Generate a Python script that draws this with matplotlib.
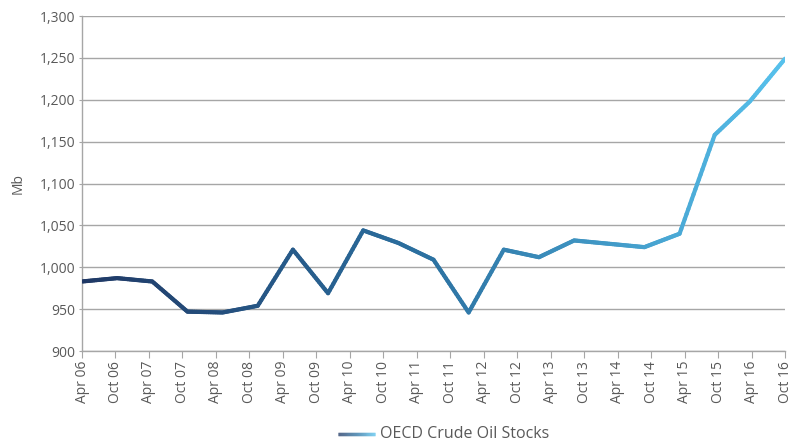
import numpy as np
import matplotlib
matplotlib.use("Agg")
import matplotlib.pyplot as plt
from matplotlib.collections import LineCollection
from matplotlib.colors import LinearSegmentedColormap

plt.rcParams['font.family'] = ['Open Sans', 'DejaVu Sans']

tick_labels = ["Apr 06", "Oct 06", "Apr 07", "Oct 07", "Apr 08", "Oct 08", "Apr 09",
               "Oct 09", "Apr 10", "Oct 10", "Apr 11", "Oct 11", "Apr 12", "Oct 12",
               "Apr 13", "Oct 13", "Apr 14", "Oct 14", "Apr 15", "Oct 15", "Apr 16",
               "Oct 16"]
stocks = [983, 987, 983, 947, 946, 954, 1021, 969, 1044, 1029, 1009, 946,
          1021, 1012, 1032, 1028, 1024, 1040, 1158, 1198, 1249]
series_name = "OECD Crude Oil Stocks"

cmap = LinearSegmentedColormap.from_list("oil", ["#1f3865", "#2c72a2", "#57c1ec"])

fig = plt.figure(figsize=(8.05, 4.44), dpi=100)
ax = fig.add_axes([82/805, 1-351/444, (785-82)/805, (351-16)/444])

n = len(stocks)
x = np.arange(n, dtype=float)
y = np.array(stocks, dtype=float)
sub = 20
xs, ys = [], []
for i in range(n - 1):
    t = np.linspace(0, 1, sub, endpoint=False)
    xs.extend(x[i] + t * (x[i+1] - x[i]))
    ys.extend(y[i] + t * (y[i+1] - y[i]))
xs.append(x[-1]); ys.append(y[-1])
xs = np.array(xs); ys = np.array(ys)
pts = np.column_stack([xs, ys]).reshape(-1, 1, 2)
segs = np.concatenate([pts[:-1], pts[1:]], axis=1)
lc = LineCollection(segs, cmap=cmap, linewidth=3.0, capstyle='round', joinstyle='round', zorder=3)
lc.set_array((xs[:-1] + xs[1:]) / 2 / (n - 1))
lc.set_clim(0, 1)
ax.add_collection(lc)

ax.set_xlim(0, n - 1)
ax.set_ylim(900, 1300)
ax.set_yticks(np.arange(900, 1301, 50))
ax.set_yticklabels([f"{v:,}" for v in range(900, 1301, 50)])
ax.set_xticks(np.linspace(0, n - 1, len(tick_labels)))
ax.set_xticklabels(tick_labels, rotation=90)

ax.grid(axis='y', color='#a6a6a6', linewidth=1.0)
ax.set_axisbelow(True)
for s in ['top', 'right']:
    ax.spines[s].set_visible(False)
for s in ['left', 'bottom']:
    ax.spines[s].set_color('#a6a6a6')
    ax.spines[s].set_linewidth(1.0)
ax.tick_params(axis='x', length=5, color='#a6a6a6', labelsize=10, labelcolor='#595959', pad=2)
ax.tick_params(axis='y', length=2, color='#a6a6a6', labelsize=10, labelcolor='#595959', pad=3)
ax.set_ylabel("Mb", fontsize=10, color='#595959', labelpad=10)

lx = np.linspace(338/805, 375/805, 40)
ly = np.full_like(lx, 1 - 434/444)
lpts = np.column_stack([lx, ly]).reshape(-1, 1, 2)
lsegs = np.concatenate([lpts[:-1], lpts[1:]], axis=1)
llc = LineCollection(lsegs, cmap=cmap, linewidth=2.5, transform=fig.transFigure)
llc.set_array(np.linspace(0, 1, len(lsegs)))
llc.set_clim(0, 1)
fig.add_artist(llc)
fig.text(380/805, 1 - 434/444, series_name, fontsize=11.5, color='#595959', va='center', ha='left')

fig.savefig("out.png", dpi=100)
